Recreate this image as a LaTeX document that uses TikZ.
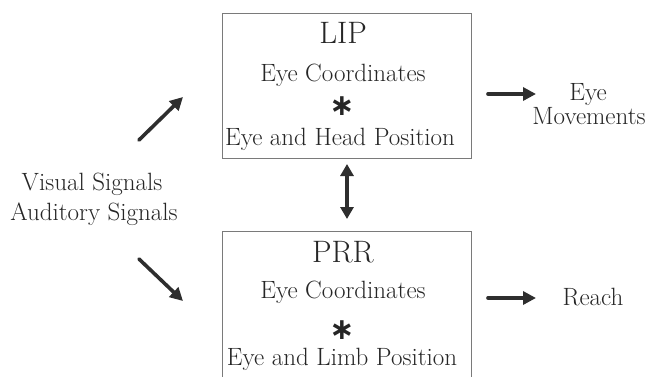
\documentclass[tikz,border=0pt]{standalone}
\usepackage{fontspec}
\newfontfamily\starfont{DejaVu Sans}
\usetikzlibrary{arrows.meta}
\definecolor{ink}{HTML}{262626}
\definecolor{arr}{HTML}{2E2E2E}
\definecolor{frame}{HTML}{7A7A7A}
\begin{document}
\begin{tikzpicture}[x=1pt,y=-1pt,
  txt/.style={text=ink, inner sep=0pt, anchor=base, font=\fontsize{25}{29}\selectfont},
  big/.style={txt, font=\fontsize{31}{35}\selectfont},
  boxnode/.style={draw=frame, line width=1.2pt, inner sep=0pt, anchor=north west},
  sig/.style={draw=arr, line width=3.6pt, line cap=round, -{Triangle[length=13pt,width=13pt]}},
  dsig/.style={draw=arr, line width=3.6pt, {Triangle[length=12pt,width=13pt]}-{Triangle[length=12pt,width=13pt]}},
  star/.style={text=ink, inner sep=0pt, font=\fontsize{30}{32}\selectfont\starfont\bfseries}]
\useasboundingbox (0,0) rectangle (649,376);
\clip (0,0) rectangle (649,376);
\fill[white] (0,0) rectangle (649,376);
% boxes
\node[boxnode, minimum width=249.5pt, minimum height=145pt] (lip) at (221.5,12.5) {};
\node[boxnode, minimum width=249.5pt, minimum height=170pt] (prr) at (221.5,231) {};
% LIP texts
\node[big] (liptitle) at (343,43) {LIP};
\node[txt] (lipec) at (343,81) {Eye Coordinates};
\node[star] (lipstar) at (342,106) {∗};
\node[txt] (liphp) at (340,145) {Eye and Head Position};
% PRR texts
\node[big] (prrtitle) at (343,262) {PRR};
\node[txt] (prrec) at (343,298) {Eye Coordinates};
\node[star] (prrstar) at (342,330) {∗};
\node[txt] (prrlp) at (342,365) {Eye and Limb Position};
% left labels
\node[txt] (vis) at (92,190) {Visual Signals};
\node[txt] (aud) at (94,220) {Auditory Signals};
% right labels
\node[txt] (eye) at (588,100) {Eye};
\node[txt] (mov) at (589,124) {Movements};
\node[txt] (reach) at (593,305) {Reach};
% arrow ends
\coordinate (ua1) at (139,140); \coordinate (ua2) at (183,97);
\coordinate (da1) at (139,259); \coordinate (da2) at (183,301);
\coordinate (ea1) at (488,94);  \coordinate (ea2) at (536,94);
\coordinate (ra1) at (488,298); \coordinate (ra2) at (536,298);
\coordinate (ba1) at (347,164); \coordinate (ba2) at (347,219);
\draw[sig] (ua1) -- (ua2);
\draw[sig] (da1) -- (da2);
\draw[sig] (ea1) -- (ea2);
\draw[sig] (ra1) -- (ra2);
\draw[dsig] (ba1) -- (ba2);
\end{tikzpicture}
\end{document}
